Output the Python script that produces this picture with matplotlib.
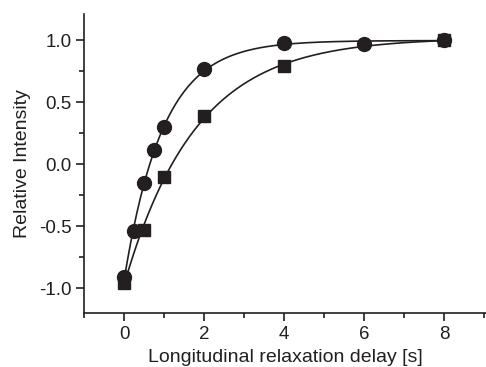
import numpy as np
import matplotlib
matplotlib.use('Agg')
import matplotlib.pyplot as plt
from matplotlib.ticker import MultipleLocator

plt.rcParams['font.family'] = ['Liberation Sans', 'DejaVu Sans']

# measured points
t_circ = [0, 0.25, 0.5, 0.75, 1, 2, 4, 6, 8]
y_circ = [-0.91, -0.54, -0.155, 0.115, 0.30, 0.77, 0.975, 0.965, 1.0]
t_sq = [0, 0.5, 1, 2, 4, 8]
y_sq = [-0.955, -0.53, -0.10, 0.387, 0.79, 1.0]


def fit_recovery(t, y):
    """fit y = a - b*exp(-t/T1) (grid over T1, linear least squares for a, b)"""
    t = np.asarray(t, float)
    y = np.asarray(y, float)
    best = None
    for T1 in np.linspace(0.3, 4, 741):
        A = np.column_stack([np.ones_like(t), -np.exp(-t / T1)])
        coef, res, _, _ = np.linalg.lstsq(A, y, rcond=None)
        err = np.sum((A @ coef - y) ** 2)
        if best is None or err < best[0]:
            best = (err, coef[0], coef[1], T1)
    return best[1:]


fig = plt.figure(figsize=(4.86, 3.67), dpi=100)
ax = fig.add_axes([0.173, 0.147, 0.827, 0.815])

tt = np.linspace(0, 8, 400)
for t, y, mk, ms in [(t_circ, y_circ, 'o', 10), (t_sq, y_sq, 's', 8.5)]:
    a, b, T1 = fit_recovery(t, y)
    ax.plot(tt, a - b * np.exp(-tt / T1), color='#231f20', lw=1.2)
    ax.plot(t, y, mk, color='#231f20', ms=ms, ls='none')

ax.set_xlim(-1, 9.05)
ax.set_ylim(-1.2, 1.21)
ax.xaxis.set_major_locator(MultipleLocator(2))
ax.xaxis.set_minor_locator(MultipleLocator(1))
ax.yaxis.set_major_locator(MultipleLocator(0.5))
ax.yaxis.set_minor_locator(MultipleLocator(0.25))
ax.yaxis.set_major_formatter(plt.FuncFormatter(lambda v, p: '{:.1f}'.format(v)))
for s in ['top', 'right']:
    ax.spines[s].set_visible(False)
for s in ['left', 'bottom']:
    ax.spines[s].set_linewidth(1.2)
    ax.spines[s].set_color('#231f20')
ax.tick_params(which='major', direction='out', length=6, width=1.2, labelsize=13.5,
               colors='#231f20', pad=3)
ax.tick_params(which='minor', direction='out', length=3.5, width=1.2, colors='#231f20')
ax.set_xlabel('Longitudinal relaxation delay [s]', fontsize=14, color='#231f20', labelpad=4.5)
ax.set_ylabel('Relative Intensity', fontsize=14, color='#231f20', labelpad=6)

fig.savefig('out.png', dpi=100)
